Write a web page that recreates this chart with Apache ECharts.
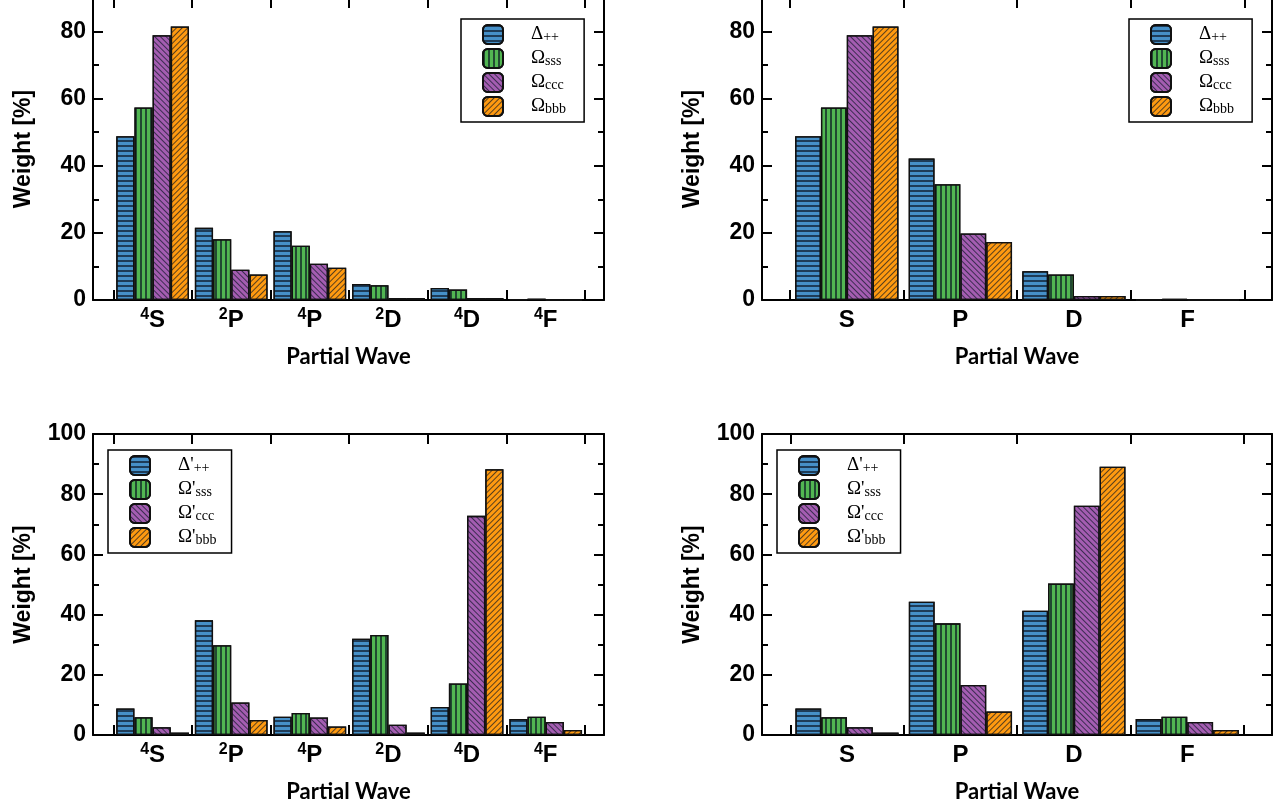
<!DOCTYPE html>
<html>
<head>
<meta charset="utf-8">
<script src="https://cdn.jsdelivr.net/npm/echarts@6/dist/echarts.min.js"></script>
<style>
  html, body { margin: 0; padding: 0; background: #fff; }
  #chart { width: 1288px; height: 810px; }
</style>
</head>
<body>
<div id="chart"></div>
<script>
// partial waves
const spectroscopicWaves = ['4S', '2P', '4P', '2D', '4D', '4F']
const orbitalWaves = ['S', 'P', 'D', 'F']
const groundNames = ['Δ++', 'Ωsss', 'Ωccc', 'Ωbbb']
const excitedNames = ["Δ'++", "Ω'sss", "Ω'ccc", "Ω'bbb"]

// ground states, spectroscopic waves (top left)
const gsDelta = [48.8, 21.5, 20.5, 4.8, 3.6, 0.2]
const gsSss = [57.4, 18.1, 16.2, 4.4, 3.1, 0.4]
const gsCcc = [78.9, 9.0, 10.8, 0.6, 0.6, 0]
const gsBbb = [81.5, 7.6, 9.6, 0.6, 0.6, 0]
// ground states, orbital waves (top right)
const goDelta = [48.8, 42.2, 8.6, 0.1]
const goSss = [57.4, 34.5, 7.6, 0.3]
const goCcc = [78.9, 19.8, 1.2, 0]
const goBbb = [81.5, 17.3, 1.2, 0]
// excited states, spectroscopic waves (bottom left)
const esDelta = [8.8, 38.1, 6.1, 32.0, 9.3, 5.3]
const esSss = [5.9, 29.8, 7.3, 33.2, 17.1, 6.1]
const esCcc = [2.6, 10.8, 5.8, 3.4, 72.8, 4.3]
const esBbb = [0.8, 5.0, 2.8, 0.8, 88.3, 1.7]
// excited states, orbital waves (bottom right)
const eoDelta = [8.8, 44.3, 41.3, 5.3]
const eoSss = [5.9, 37.1, 50.3, 6.1]
const eoCcc = [2.6, 16.6, 76.2, 4.3]
const eoBbb = [0.8, 7.8, 89.1, 1.7]

const fills = ['#4690c8', '#52b652', '#a45db1', '#ff9a10']
const stripe = 'rgba(10,20,35,0.68)'
// canvas pattern rotation is clockwise: +45deg gives "\" and -45deg gives "/"
const decals = [
  { symbol: 'rect', symbolSize: 1, dashArrayX: [1, 0], dashArrayY: [2, 3], rotation: 0, color: stripe },
  { symbol: 'rect', symbolSize: 1, dashArrayX: [2, 3], dashArrayY: [1, 0], rotation: 0, color: stripe },
  { symbol: 'rect', symbolSize: 1, dashArrayX: [1, 0], dashArrayY: [1, 3], rotation: Math.PI / 4, color: stripe },
  { symbol: 'rect', symbolSize: 1, dashArrayX: [1, 0], dashArrayY: [1, 3], rotation: -Math.PI / 4, color: stripe }
]

// frame: [left, top, width, height], data: [left, width], legend: [left, top, right padding]
const panels = [
  { frame: [93, -2, 511, 302], data: [113.3, 471.7], max: 90, cats: spectroscopicWaves, names: groundNames,
    values: [gsDelta, gsSss, gsCcc, gsBbb], legend: [461, 19, 18], gap: '7.5%' },
  { frame: [762, -2, 510, 302], data: [790, 454.3], max: 90, cats: orbitalWaves, names: groundNames,
    values: [goDelta, goSss, goCcc, goBbb], legend: [1129, 19, 18], gap: '9%' },
  { frame: [93, 434, 511, 301], data: [113.3, 471.7], max: 100, cats: spectroscopicWaves, names: excitedNames,
    values: [esDelta, esSss, esCcc, esBbb], legend: [108, 450, 15], gap: '7.5%' },
  { frame: [762, 434, 510, 301], data: [790.3, 453.7], max: 100, cats: orbitalWaves, names: excitedNames,
    values: [eoDelta, eoSss, eoCcc, eoBbb], legend: [777, 450, 15], gap: '9%' }
]

const sansBold = { fontFamily: 'Liberation Sans', fontWeight: 'bold', color: '#000' }

function waveLabel(v) {
  return v.length > 1 ? '{sup|' + v[0] + '}{L|' + v.slice(1) + '}' : '{L|' + v + '}'
}
function legendLabel(name) {
  const cut = name[1] === "'" ? 2 : 1
  return '{sp| }{m|' + name.slice(0, cut) + '}{s|' + name.slice(cut) + '}'
}

const grid = []
const xAxis = []
const yAxis = []
const series = []
const legend = []

panels.forEach((p, i) => {
  const [fl, ft, fw, fh] = p.frame
  grid.push({ left: fl, top: ft, width: fw, height: fh, outerBoundsMode: 'none', containLabel: false })
  grid.push({ left: p.data[0], top: ft, width: p.data[1], height: fh, outerBoundsMode: 'none', containLabel: false })
  const gFrame = 2 * i
  const gData = 2 * i + 1
  const line = { show: true, onZero: false, lineStyle: { color: '#000', width: 2 } }

  // frame x axes: only lines + axis name
  xAxis.push({
    gridIndex: gFrame, type: 'value', position: 'bottom', min: 0, max: 1,
    axisLine: line, axisTick: { show: false }, axisLabel: { show: false }, splitLine: { show: false },
    name: 'Partial Wave', nameLocation: 'middle', nameGap: 46,
    nameTextStyle: { fontFamily: 'Lato', fontWeight: 'bold', fontSize: 22, color: '#000' }
  })
  xAxis.push({
    gridIndex: gFrame, type: 'value', position: 'top', min: 0, max: 1,
    axisLine: line, axisTick: { show: false }, axisLabel: { show: false }, splitLine: { show: false }
  })
  // data x axes: categories, ticks on the boundaries
  const catTick = { show: true, inside: true, length: 10, lineStyle: { color: '#000', width: 2 } }
  xAxis.push({
    gridIndex: gData, type: 'category', position: 'bottom', data: p.cats, boundaryGap: true,
    axisLine: { show: false, onZero: false }, axisTick: catTick, splitLine: { show: false },
    axisLabel: {
      margin: 7, formatter: waveLabel, interval: 0,
      rich: {
        sup: { ...sansBold, fontSize: 16, lineHeight: 14, verticalAlign: 'top' },
        L: { ...sansBold, fontSize: 24, lineHeight: 26 }
      }
    }
  })
  xAxis.push({
    gridIndex: gData, type: 'category', position: 'top', data: p.cats, boundaryGap: true,
    axisLine: { show: false, onZero: false }, axisTick: catTick, axisLabel: { show: false },
    splitLine: { show: false }
  })

  const major = { show: true, inside: true, length: 10, lineStyle: { color: '#000', width: 2 } }
  const minor = { show: true, inside: true, length: 6, lineStyle: { color: '#000', width: 2 } }
  yAxis.push({
    gridIndex: gFrame, type: 'value', position: 'left', min: 0, max: p.max, interval: 20,
    axisLine: line, axisTick: major, splitLine: { show: false },
    axisLabel: { ...sansBold, fontSize: 23, margin: 7, showMaxLabel: p.max === 100 },
    name: 'Weight [%]', nameLocation: 'middle', nameRotate: 90, nameGap: 58,
    nameTextStyle: { ...sansBold, fontSize: 23 }
  })
  yAxis.push({
    gridIndex: gFrame, type: 'value', position: 'right', min: 0, max: p.max, interval: 20,
    axisLine: line, axisTick: major, axisLabel: { show: false }, splitLine: { show: false }
  })
  yAxis.push({
    gridIndex: gFrame, type: 'value', position: 'left', min: 0, max: p.max, interval: 10,
    axisLine: { show: false, onZero: false }, axisTick: minor, axisLabel: { show: false }, splitLine: { show: false }
  })
  yAxis.push({
    gridIndex: gFrame, type: 'value', position: 'right', min: 0, max: p.max, interval: 10,
    axisLine: { show: false, onZero: false }, axisTick: minor, axisLabel: { show: false }, splitLine: { show: false }
  })
  yAxis.push({ gridIndex: gData, type: 'value', min: 0, max: p.max, show: false })

  p.values.forEach((vals, k) => {
    series.push({
      type: 'bar', name: p.names[k], data: vals,
      xAxisIndex: 4 * i + 2, yAxisIndex: 5 * i + 4,
      barGap: '0%', barCategoryGap: p.gap,
      itemStyle: { color: fills[k], borderColor: '#111', borderWidth: 1.3, decal: decals[k] },
      emphasis: { disabled: true }, silent: true
    })
  })

  legend.push({
    data: p.names, left: p.legend[0], top: p.legend[1], orient: 'vertical',
    icon: 'roundRect', itemWidth: 20, itemHeight: 19, itemGap: 3,
    padding: [5, p.legend[2], 5, 21], borderColor: '#000', borderWidth: 1.5, backgroundColor: '#fff',
    selectedMode: false, formatter: legendLabel,
    textStyle: {
      color: '#000',
      rich: {
        sp: { width: 23 },
        m: { fontFamily: 'Liberation Serif', fontSize: 19, lineHeight: 20, color: '#000' },
        s: { fontFamily: 'Liberation Serif', fontSize: 14, lineHeight: 10, verticalAlign: 'bottom', color: '#000' }
      }
    }
  })
})

const chart = echarts.init(document.getElementById('chart'))
chart.setOption({
  animation: false,
  backgroundColor: '#fff',
  grid, xAxis, yAxis, series, legend,
  tooltip: { show: false }
})
</script>
</body>
</html>
